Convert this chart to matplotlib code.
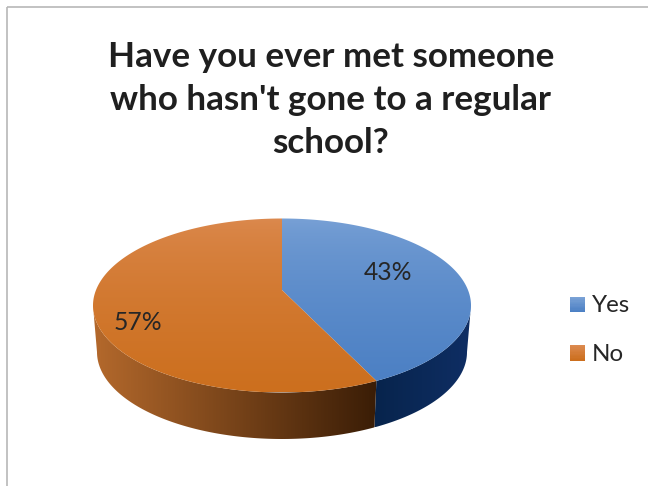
import numpy as np
import matplotlib
matplotlib.use("Agg")
import matplotlib.pyplot as plt
from matplotlib.colors import LinearSegmentedColormap
from matplotlib.legend_handler import HandlerBase
from matplotlib.patches import Patch, Polygon, Rectangle

title = "Have you ever met someone\nwho hasn't gone to a regular\nschool?"
categories = ["Yes", "No"]
shares = [43, 57]
top_colors = [("#7aa2d6", "#4c80c4"), ("#dc8a50", "#cc6f1e")]
side_colors = [("#07244c", "#0f2e64"), ("#b4692c", "#3a1d06")]

plt.rcParams["font.family"] = ["Lato", "DejaVu Sans"]

# tilted disc, laid out in pixels
cx, cy = 282.0, 305.5
rx, ry = 189.0, 87.0
tilt = 0.178
depth = 46.5
shrink = 185.0 / 189.0


def disc_point(theta, scale=1.0, drop=0.0):
    # theta runs clockwise from 12 o'clock, the far edge is foreshortened
    u, v = np.sin(theta), np.cos(theta)
    d = 1 + tilt * v
    x = cx + scale * rx * np.sqrt(1 - tilt ** 2) * u / d
    y = cy + drop - ry * (v + tilt) / d
    return x, y


def gradient_cmap(pair):
    return LinearSegmentedColormap.from_list("g", list(pair))


def fill_gradient(points, pair, grad, zorder):
    # paints a gradient image clipped to a polygon
    shape = Polygon(points, fc="none", ec="none", transform=ax.transData)
    ax.add_patch(shape)
    xs = [p[0] for p in points]
    ys = [p[1] for p in points]
    im = ax.imshow(grad, cmap=gradient_cmap(pair), aspect="auto", vmin=0, vmax=1,
                   extent=(min(xs), max(xs), max(ys), min(ys)), origin="upper", zorder=zorder)
    im.set_clip_path(shape)


fig = plt.figure(figsize=(6.48, 4.86), dpi=100)
ax = fig.add_axes([0, 0, 1, 1])
ax.axis("off")

# outer frame of the chart area, runs off the right and bottom
ax.add_patch(Rectangle((6.5, 7.5), 660, 490, fill=False, ec="#b8b8b8", lw=1.2, zorder=0))

edges = np.cumsum([0] + shares) / sum(shares) * 2 * np.pi
silhouette = np.arccos(-tilt)

# side wall first, darkest where the two shares meet
for i in range(len(shares)):
    a = max(edges[i], silhouette)
    b = min(edges[i + 1], 2 * np.pi - silhouette)
    arc = np.linspace(a, b, 200)
    upper = list(zip(*disc_point(arc)))
    lower = list(zip(*disc_point(arc[::-1], shrink, depth)))
    grad = np.linspace(0, 1, 256).reshape(1, -1)
    fill_gradient(upper + lower, side_colors[i], grad, 1)

# top face, one gradient filled wedge per share
for i in range(len(shares)):
    arc = np.linspace(edges[i], edges[i + 1], 200)
    apex = (cx, cy - ry * tilt)
    grad = np.linspace(0, 1, 256).reshape(-1, 1) ** 0.6
    points = [apex] + list(zip(*disc_point(arc)))
    fill_gradient(points, top_colors[i], grad, 2)

ax.set_xlim(0, 648)
ax.set_ylim(486, 0)

ax.text(331, 100, title, ha="center", va="center", fontsize=25.2, fontweight="bold",
        color="#1f1f1f", linespacing=1.43)

label_pos = [(388, 272), (138, 322)]
for share, pos in zip(shares, label_pos):
    ax.text(pos[0], pos[1], f"{share}%", ha="center", va="center", fontsize=17.8, color="#262626", zorder=3)


class GradientSquare(HandlerBase):
    def create_artists(self, legend, orig_handle, xdescent, ydescent, width, height, fontsize, trans):
        cmap = gradient_cmap(orig_handle.pair)
        n = 12
        out = []
        for k in range(n):
            out.append(Rectangle((0, height - height * (k + 1) / n), width, height / n + 0.2,
                                 fc=cmap(k / (n - 1)), ec="none", transform=trans))
        return out


class SharePatch(Patch):
    def __init__(self, pair):
        super().__init__()
        self.pair = pair


handles = [SharePatch(p) for p in top_colors]
leg = ax.legend(handles, categories, handler_map={SharePatch: GradientSquare()},
                loc="center left", bbox_to_anchor=(570 / 648, 1 - 330 / 486), frameon=False,
                fontsize=17.4, handlelength=0.62, handleheight=0.62, handletextpad=0.3,
                labelspacing=1.12, labelcolor="#262626", borderpad=0, borderaxespad=0)

fig.savefig("out.png", dpi=100, facecolor="white")
